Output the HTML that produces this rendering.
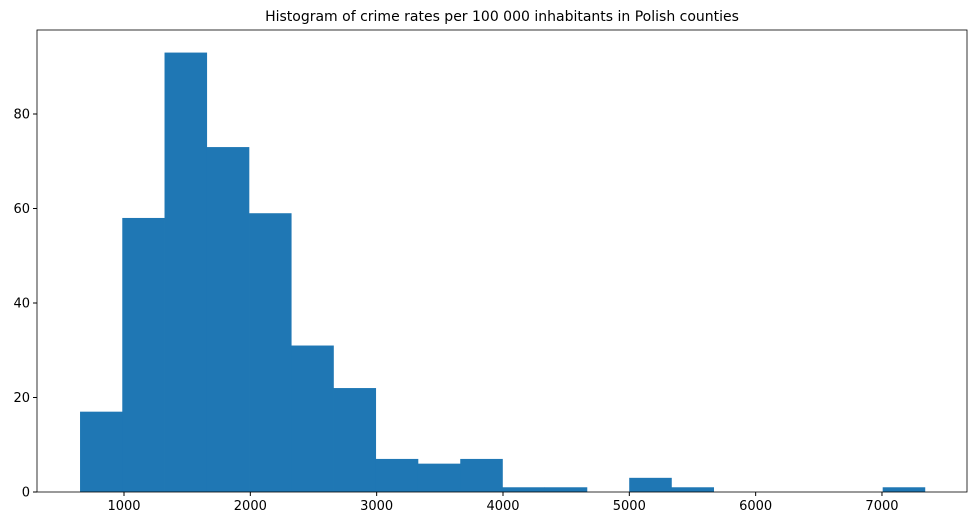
<!DOCTYPE html>
<html><head><meta charset="utf-8"><style>
body{margin:0;background:#fff;font-family:"DejaVu Sans","Liberation Sans",sans-serif;}
svg text{font-family:"DejaVu Sans","Liberation Sans",sans-serif;font-size:13px;fill:#000}
</style></head><body>
<svg id="chart" width="977" height="526" xmlns="http://www.w3.org/2000/svg">
<text x="502" y="21" text-anchor="middle" style="font-size:14px">Histogram of crime rates per 100 000 inhabitants in Polish counties</text>
<g id="bars"></g>
<g id="axes"></g>
</svg>
<script>
const binStart = 652;
const binWidth = 334.4;
const counts = [17,58,93,73,59,31,22,7,6,7,1,1,0,3,1,0,0,0,0,1];
const xTicks = [1000,2000,3000,4000,5000,6000,7000];
const yTicks = [0,20,40,60,80];
const L=37,R=967,T=30,B=492;
const xs=v=>124+(v-1000)*0.12633;
const ys=v=>B-v*4.725;
const NS="http://www.w3.org/2000/svg";
const bars=document.getElementById('bars'), axes=document.getElementById('axes');
counts.forEach((c,i)=>{
  if(!c) return;
  const r=document.createElementNS(NS,'rect');
  const x0=xs(binStart+i*binWidth), x1=xs(binStart+(i+1)*binWidth);
  r.setAttribute('x',x0);r.setAttribute('width',x1-x0+0.3);
  r.setAttribute('y',ys(c));r.setAttribute('height',B-ys(c));
  r.setAttribute('fill','#1f77b4');
  
  
  bars.appendChild(r);
});
const frame=document.createElementNS(NS,'rect');
frame.setAttribute('x',L);frame.setAttribute('y',T);frame.setAttribute('width',R-L);frame.setAttribute('height',B-T);
frame.setAttribute('fill','none');frame.setAttribute('stroke','#000');frame.setAttribute('stroke-width','0.8');


axes.appendChild(frame);
xTicks.forEach(t=>{
  const x=xs(t);
  const l=document.createElementNS(NS,'line');
  l.setAttribute('x1',x);l.setAttribute('x2',x);l.setAttribute('y1',B);l.setAttribute('y2',B+4);l.setAttribute('stroke','#000');
  
  
  axes.appendChild(l);
  const tx=document.createElementNS(NS,'text');
  tx.setAttribute('x',x);tx.setAttribute('y',B+18);tx.setAttribute('text-anchor','middle');tx.textContent=t;
  
  
  axes.appendChild(tx);
});
yTicks.forEach(t=>{
  const y=ys(t);
  const l=document.createElementNS(NS,'line');
  l.setAttribute('x1',L-4);l.setAttribute('x2',L);l.setAttribute('y1',y);l.setAttribute('y2',y);l.setAttribute('stroke','#000');
  
  
  axes.appendChild(l);
  const tx=document.createElementNS(NS,'text');
  tx.setAttribute('x',L-7);tx.setAttribute('y',y+4.5);tx.setAttribute('text-anchor','end');tx.textContent=t;
  
  
  axes.appendChild(tx);
});
</script>
</body></html>
